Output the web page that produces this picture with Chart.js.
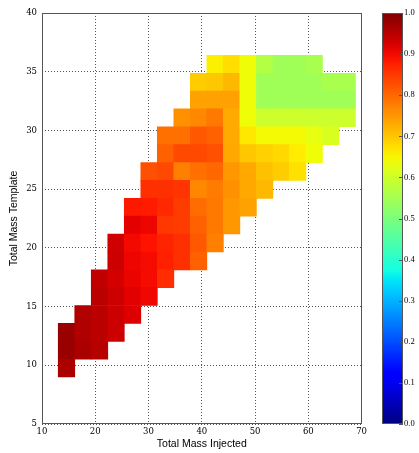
<!DOCTYPE html>
<html>
<head>
<meta charset="utf-8">
<script src="https://cdn.jsdelivr.net/npm/chart.js@4.4.1/dist/chart.umd.min.js"></script>
<style>
  html, body { margin: 0; padding: 0; background: #ffffff; }
  #wrap { position: relative; width: 419px; height: 453px; }
  #main { position: absolute; left: 0; top: 0; }
  #cbar { position: absolute; left: 370px; top: 0; }
</style>
</head>
<body>
<div id="wrap">
  <canvas id="main" width="370" height="453"></canvas>
  <canvas id="cbar" width="49" height="453"></canvas>
</div>
<script>
// ---- data ----
// centres of the "Total Mass Injected" bins
const injectedMass = [14.6, 17.7, 20.8, 23.9, 27.0, 30.1, 33.2, 36.3, 39.4, 42.5, 45.6, 48.7, 51.8, 54.9, 58.0, 61.1, 64.2, 67.3];
// edges of the "Total Mass Template" bins (bottom to top)
const templateEdges = [9.0, 10.52, 12.04, 13.57, 15.09, 16.61, 18.13, 19.65, 21.18, 22.70, 24.22, 25.74, 27.26, 28.79, 30.31, 31.83, 33.35, 34.87, 36.40];
const _ = null;
// match values, one array per template bin (bottom row first), one entry per injected bin
const row0  = [0.963, _, _, _, _, _, _, _, _, _, _, _, _, _, _, _, _, _];
const row1  = [0.978, 0.963, 0.952, _, _, _, _, _, _, _, _, _, _, _, _, _, _, _];
const row2  = [0.978, 0.958, 0.949, 0.934, _, _, _, _, _, _, _, _, _, _, _, _, _, _];
const row3  = [_, 0.958, 0.949, 0.934, 0.919, _, _, _, _, _, _, _, _, _, _, _, _, _];
const row4  = [_, _, 0.949, 0.934, 0.914, 0.903, _, _, _, _, _, _, _, _, _, _, _, _];
const row5  = [_, _, 0.944, 0.927, 0.907, 0.898, 0.862, _, _, _, _, _, _, _, _, _, _, _];
const row6  = [_, _, _, 0.934, 0.905, 0.898, 0.876, 0.859, 0.808, _, _, _, _, _, _, _, _, _];
const row7  = [_, _, _, 0.930, 0.900, 0.890, 0.872, 0.859, 0.817, 0.775, _, _, _, _, _, _, _, _];
const row8  = [_, _, _, _, 0.912, 0.905, 0.851, 0.846, 0.808, 0.783, 0.749, _, _, _, _, _, _, _];
const row9  = [_, _, _, _, 0.885, 0.882, 0.868, 0.846, 0.795, 0.783, 0.749, 0.740, _, _, _, _, _, _];
const row10 = [_, _, _, _, _, 0.859, 0.859, 0.855, 0.766, 0.779, 0.757, 0.732, 0.715, _, _, _, _, _];
const row11 = [_, _, _, _, _, 0.826, 0.834, 0.775, 0.791, 0.800, 0.749, 0.732, 0.707, 0.694, 0.672, _, _, _];
const row12 = [_, _, _, _, _, _, 0.808, 0.834, 0.834, 0.826, 0.732, 0.699, 0.689, 0.680, 0.660, 0.641, _, _];
const row13 = [_, _, _, _, _, _, 0.791, 0.791, 0.817, 0.808, 0.730, 0.664, 0.645, 0.645, 0.645, 0.632, 0.613, _];
const row14 = [_, _, _, _, _, _, _, 0.757, 0.766, 0.783, 0.730, 0.641, 0.598, 0.598, 0.598, 0.598, 0.598, 0.598];
const row15 = [_, _, _, _, _, _, _, _, 0.740, 0.740, 0.740, 0.641, 0.545, 0.545, 0.545, 0.545, 0.545, 0.545];
const row16 = [_, _, _, _, _, _, _, _, 0.694, 0.699, 0.715, 0.641, 0.545, 0.545, 0.545, 0.545, 0.555, 0.555];
const row17 = [_, _, _, _, _, _, _, _, _, 0.656, 0.675, 0.641, 0.567, 0.545, 0.545, 0.555, _, _];
const rows = [row0, row1, row2, row3, row4, row5, row6, row7, row8, row9, row10, row11, row12, row13, row14, row15, row16, row17];
const colorbarTicks = [0.0, 0.1, 0.2, 0.3, 0.4, 0.5, 0.6, 0.7, 0.8, 0.9, 1.0];

// ---- matplotlib "jet" colormap ----
const JET = {
  r: [[0, 0], [0.35, 0], [0.66, 1], [0.89, 1], [1, 0.5]],
  g: [[0, 0], [0.125, 0], [0.375, 1], [0.64, 1], [0.91, 0], [1, 0]],
  b: [[0, 0.5], [0.11, 1], [0.34, 1], [0.65, 0], [1, 0]]
};
function seg(v, pts) {
  if (v <= pts[0][0]) return pts[0][1];
  for (let i = 1; i < pts.length; i++) {
    if (v <= pts[i][0]) {
      const [x0, y0] = pts[i - 1], [x1, y1] = pts[i];
      return y0 + (y1 - y0) * (v - x0) / (x1 - x0);
    }
  }
  return pts[pts.length - 1][1];
}
function jet(v) {
  const c = k => Math.round(255 * seg(v, JET[k]));
  return 'rgb(' + c('r') + ',' + c('g') + ',' + c('b') + ')';
}

// ---- datasets: one floating-bar dataset per template bin ----
const datasets = rows.map((row, j) => {
  const pts = [], cols = [];
  row.forEach((v, i) => {
    if (v === null) return;
    pts.push({ x: injectedMass[i], y: [templateEdges[j], templateEdges[j + 1]] });
    cols.push(jet(v));
  });
  return {
    data: pts,
    backgroundColor: cols,
    borderWidth: 0,
    grouped: false,
    barPercentage: 1.0,
    categoryPercentage: 1.0
  };
});

const framePlugin = {
  id: 'frame',
  afterDraw(chart, args, opts) {
    const { ctx, chartArea: a } = chart;
    ctx.save();
    ctx.strokeStyle = opts.color || '#555';
    ctx.lineWidth = 1;
    ctx.strokeRect(Math.round(a.left) + 0.5, Math.round(a.top) + 0.5,
                   Math.round(a.right - a.left) - 1, Math.round(a.bottom - a.top) - 1);
    ctx.restore();
  }
};

const tickFont = { family: "'DejaVu Serif', serif", size: 8.5 };
const titleFont = { family: "'Liberation Sans', Arial, sans-serif", size: 10.5 };
const gridStyle = {
  color: 'rgba(0,0,0,0.85)',
  lineWidth: 0.8,
  drawTicks: false,
  offset: false
};

new Chart(document.getElementById('main'), {
  type: 'bar',
  data: { datasets },
  options: {
    responsive: false,
    animation: false,
    devicePixelRatio: 1,
    events: [],
    layout: { padding: { left: 0, top: 13, right: 8, bottom: 0 } },
    plugins: { legend: { display: false }, tooltip: { enabled: false }, frame: { color: '#555' } },
    scales: {
      x: {
        type: 'linear',
        min: 10, max: 70,
        offset: false,
        z: 1,
        border: { display: false, dash: [1, 2] },
        grid: gridStyle,
        ticks: { stepSize: 10, font: tickFont, color: '#000', padding: 3, maxRotation: 0 },
        title: { display: true, text: 'Total Mass Injected', font: titleFont, color: '#000', padding: { top: 0, bottom: 3 } },
        afterFit(s) { s.height = 29; }
      },
      y: {
        type: 'linear',
        min: 5, max: 40,
        z: 1,
        border: { display: false, dash: [1, 2] },
        grid: gridStyle,
        ticks: { stepSize: 5, font: tickFont, color: '#000', padding: 5 },
        title: { display: true, text: 'Total Mass Template', font: titleFont, color: '#000', padding: { top: 8, bottom: 0 } },
        afterFit(s) { s.width = 42; }
      }
    }
  },
  plugins: [framePlugin]
});

// ---- colour bar ----
const cbarTickMarks = {
  id: 'cbarTickMarks',
  afterDraw(chart) {
    const { ctx, chartArea: a, scales: { y } } = chart;
    ctx.save();
    ctx.strokeStyle = '#555';
    ctx.lineWidth = 1;
    y.ticks.forEach(t => {
      const py = Math.round(y.getPixelForValue(t.value)) + 0.5;
      ctx.beginPath();
      ctx.moveTo(a.right - 4, py);
      ctx.lineTo(a.right, py);
      ctx.stroke();
    });
    ctx.restore();
  }
};

new Chart(document.getElementById('cbar'), {
  type: 'bar',
  data: {
    labels: ['match'],
    datasets: [{
      data: [[colorbarTicks[0], colorbarTicks[colorbarTicks.length - 1]]],
      borderWidth: 0,
      barPercentage: 1.0,
      categoryPercentage: 1.0,
      backgroundColor(ctx) {
        const area = ctx.chart.chartArea;
        if (!area) return 'rgba(0,0,0,0)';
        const g = ctx.chart.ctx.createLinearGradient(0, area.bottom, 0, area.top);
        for (let k = 0; k <= 40; k++) g.addColorStop(k / 40, jet(k / 40));
        return g;
      }
    }]
  },
  options: {
    responsive: false,
    animation: false,
    devicePixelRatio: 1,
    events: [],
    layout: { padding: { left: 12, top: 13, right: 0, bottom: 29 } },
    plugins: { legend: { display: false }, tooltip: { enabled: false }, frame: { color: '#555' } },
    scales: {
      x: { display: false },
      y: {
        position: 'right',
        min: 0, max: 1,
        border: { display: false },
        grid: { display: false, drawTicks: false, tickLength: 0 },
        afterBuildTicks(s) { s.ticks = colorbarTicks.map(v => ({ value: v })); },
        ticks: { font: { family: "'Liberation Serif', serif", size: 8.5 }, color: '#000', padding: 1,
                 callback: v => Number(v).toFixed(1) },
        afterFit(s) { s.width = 16; }
      }
    }
  },
  plugins: [framePlugin, cbarTickMarks]
});
</script>
</body>
</html>
